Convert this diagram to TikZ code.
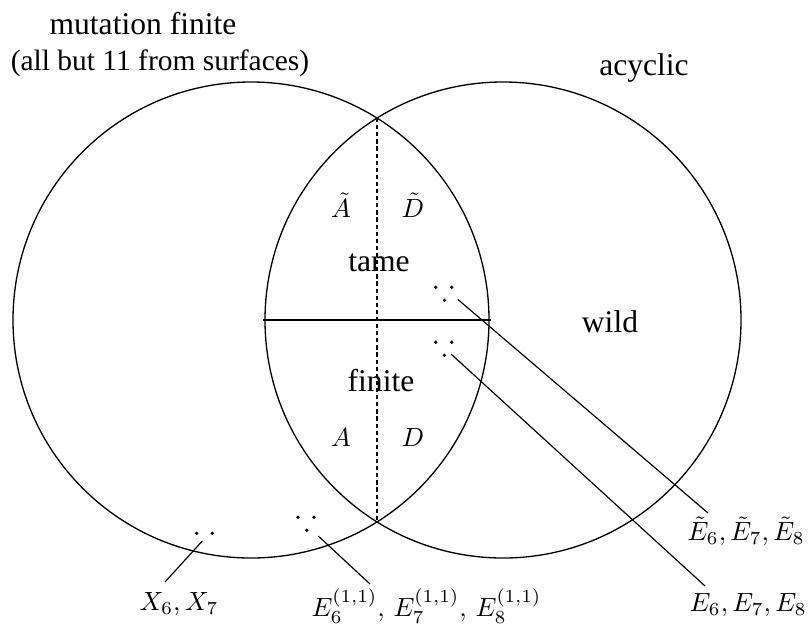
\documentclass[tikz,border=0pt]{standalone}
\usepackage[no-math]{fontspec}
\setmainfont{Liberation Serif}
\usetikzlibrary{positioning,calc}

\begin{document}
\begin{tikzpicture}[
    x=0.38pt, y=-0.38pt,
    setLine/.style={line width=0.5pt, draw=black},
    splitLine/.style={line width=0.5pt, draw=black, dash pattern=on 1.6pt off 1.1pt},
    ptrLine/.style={line width=0.45pt, draw=black},
    setLabel/.style={font=\large, inner sep=0pt},
    noteLabel/.style={font=\fontsize{11.2}{13}\selectfont, inner sep=0pt},
    typeLabel/.style={font=\normalsize, inner sep=0pt},
    dotMark/.style={circle, fill=black, inner sep=0pt, minimum size=1.4pt}
]
    \useasboundingbox (0,0) rectangle (811,623);

    % The two classes
    \coordinate (cMut) at (251,320);
    \coordinate (cAcy) at (503,320);
    \draw[setLine] (cMut) circle[radius=238];
    \draw[setLine] (cAcy) circle[radius=238];

    % Split of the intersection
    \coordinate (iTop) at (377,118);
    \coordinate (iBot) at (377,522);
    \coordinate (hLeft) at (263,320);
    \coordinate (hRight) at (491,320);
    \draw[splitLine] (iTop) -- (iBot);
    \draw[setLine] (hLeft) -- (hRight);

    % Class titles
    \node[setLabel] (mutLbl) at (143,24) {mutation finite};
    \node[noteLabel] (mutNote) at (160,63) {(all but 11 from surfaces)};
    \node[setLabel] (acyLbl) at (644,68) {acyclic};
    \node[setLabel] (tameLbl) at (379,263) {tame};
    \node[setLabel] (finLbl) at (381,381) {finite};
    \node[setLabel] (wildLbl) at (610,322) {wild};

    % Types inside the intersection
    \node[typeLabel] (tA) at (341,205) {$\tilde{A}$};
    \node[typeLabel] (tD) at (413,205) {$\tilde{D}$};
    \node[typeLabel] (fA) at (341,437) {$A$};
    \node[typeLabel] (fD) at (413,437) {$D$};

    % Dot groups
    \coordinate (dTame) at (443.7,287.3);
    \coordinate (dFin) at (443.7,342.3);
    \coordinate (dAff) at (306,517.3);
    \coordinate (dX) at (204.5,533.3);
    \foreach \g in {dTame,dFin,dAff} {
        \node[dotMark] at ($(\g)+(-8,0)$) {};
        \node[dotMark] at ($(\g)+(8,0)$) {};
        \node[dotMark] at ($(\g)+(0.7,13)$) {};
    }
    \node[dotMark] at ($(dX)+(-7.8,0)$) {};
    \node[dotMark] at ($(dX)+(7.8,0)$) {};

    % Exceptional types
    \node[typeLabel, anchor=north west] (etLbl) at (687,516) {$\tilde{E}_6,\tilde{E}_7,\tilde{E}_8$};
    \node[typeLabel, anchor=north west] (eLbl) at (689,593) {$E_6,E_7,E_8$};
    \node[typeLabel, anchor=north east] (xLbl) at (219,592) {$X_6,X_7$};
    \node[typeLabel, anchor=north west] (affLbl) at (311,588) {$E_6^{(1,1)},\,E_7^{(1,1)},\,E_8^{(1,1)}$};

    % Pointers
    \coordinate (sTame) at (457.7,299.3);
    \coordinate (sFin) at (451,354);
    \coordinate (sAff) at (318.3,536);
    \coordinate (sX) at (202.3,541);
    \coordinate (eTame) at (708,513);
    \coordinate (eFin) at (705,586);
    \coordinate (eAff) at (370,584);
    \coordinate (eX) at (165,582);
    \draw[ptrLine] (sTame) -- (eTame);
    \draw[ptrLine] (sFin) -- (eFin);
    \draw[ptrLine] (sAff) -- (eAff);
    \draw[ptrLine] (sX) -- (eX);

\end{tikzpicture}
\end{document}
